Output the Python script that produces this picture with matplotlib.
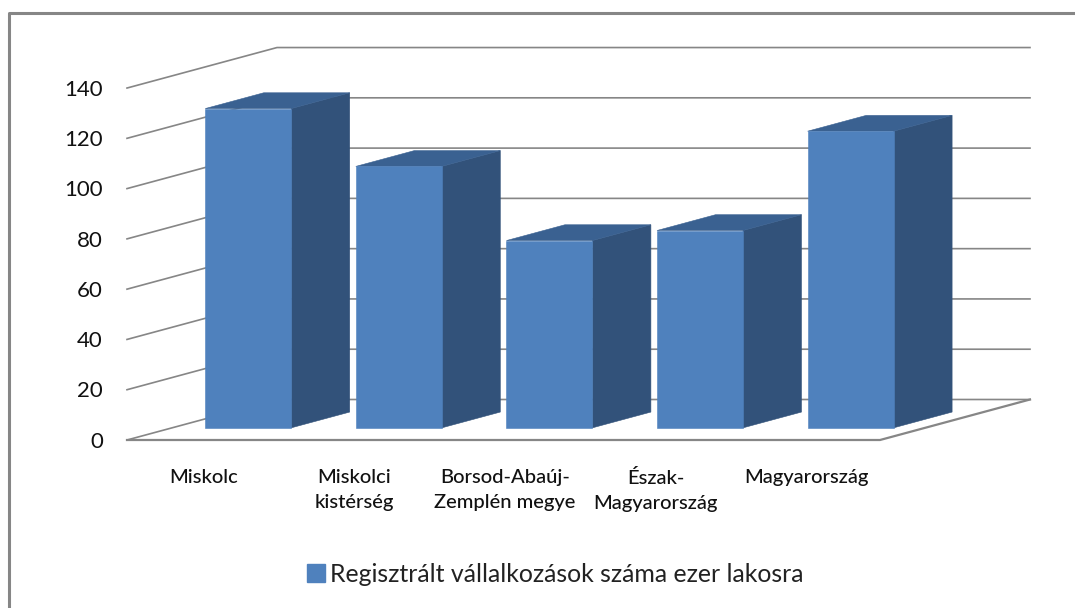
import matplotlib
matplotlib.use('Agg')
import numpy as np
import matplotlib.pyplot as plt
from matplotlib.lines import Line2D
from matplotlib.patches import Patch

plt.rcParams['font.family'] = ['Lato', 'DejaVu Sans']

# Data
categories = ['Miskolc', 'Miskolci\nkistérség', 'Borsod-Abaúj-\nZemplén megye', 'Észak-\nMagyarország', 'Magyarország']
values = [127, 104, 74.5, 78.5, 118]
y_ticks = [0, 20, 40, 60, 80, 100, 120, 140]
series_name = 'Regisztrált vállalkozások száma ezer lakosra'

FRONT = '#4F81BD'
SIDE = '#32527A'
TOP = '#3A6191'
GRID = '#868686'

W, H = 1075, 608
CAT_PX = 150.6   # pixels per category
VAL_PX = 2.514   # pixels per value unit
X0, Y0 = 127, 440  # front corner of the floor

# full depth of the fake 3d box, in data units
DEPTH_X = 150 / CAT_PX
DEPTH_Y = 40.5 / VAL_PX


def proj(x, v, d):
    # category position, value and depth to plain 2d data coordinates
    return x + d * DEPTH_X, v + d * DEPTH_Y


fig = plt.figure(figsize=(W / 100, H / 100), dpi=100, facecolor='white')
ax = fig.add_axes([0, 0, 1, 1])
ax.set_xlim(-X0 / CAT_PX, (W - X0) / CAT_PX)
ax.set_ylim(-(H - Y0) / VAL_PX, Y0 / VAL_PX)
ax.axis('off')

n = len(categories)

# walls and gridlines
for t in y_ticks:
    xs, ys = zip(proj(0, t, 0), proj(0, t, 1), proj(n, t, 1))
    ax.plot(xs, ys, color=GRID, lw=1.2, zorder=1)
    ax.text(-24 / CAT_PX, t - 0.7, str(t), ha='right', va='center', fontsize=16, color='#111111')

# floor
xs, ys = zip(proj(0, 0, 0), proj(n, 0, 0), proj(n, 0, 1))
ax.plot(xs, ys, color=GRID, lw=1.6, zorder=1)

# bars
bar_w = 0.571
d0, d1 = 0.3, 0.69
shift = 0.506
for i, v in enumerate(values):
    left = i + shift - bar_w / 2
    right = i + shift + bar_w / 2
    front = [proj(left, 0, d0), proj(right, 0, d0), proj(right, v, d0), proj(left, v, d0)]
    side = [proj(right, 0, d0), proj(right, 0, d1), proj(right, v, d1), proj(right, v, d0)]
    top = [proj(left, v, d0), proj(right, v, d0), proj(right, v, d1), proj(left, v, d1)]
    ax.fill(*zip(*side), facecolor=SIDE, edgecolor=SIDE, lw=0.4, zorder=2)
    ax.fill(*zip(*top), facecolor=TOP, edgecolor=TOP, lw=0.4, zorder=2)
    ax.fill(*zip(*front), facecolor=FRONT, edgecolor=FRONT, lw=0.4, zorder=3)

# category labels
for i, name in enumerate(categories):
    ax.text(i + 0.51, -11.5, name, ha='center', va='top', fontsize=14.5, fontweight='medium',
            color='#111111', linespacing=1.6)

# legend
ax.legend(handles=[Patch(color=FRONT, label=series_name)], loc='center',
          bbox_to_anchor=(555 / W, 1 - 574 / H), frameon=False, fontsize=17.9,
          handlelength=0.72, handleheight=0.72, handletextpad=0.2, labelcolor='#222222')

# outer border, only top and left show
fig.add_artist(Line2D([8.5 / W, 8.5 / W, 1], [0, 1 - 12.5 / H, 1 - 12.5 / H], color=GRID, lw=2.2))

fig.savefig('out.png', dpi=100)
